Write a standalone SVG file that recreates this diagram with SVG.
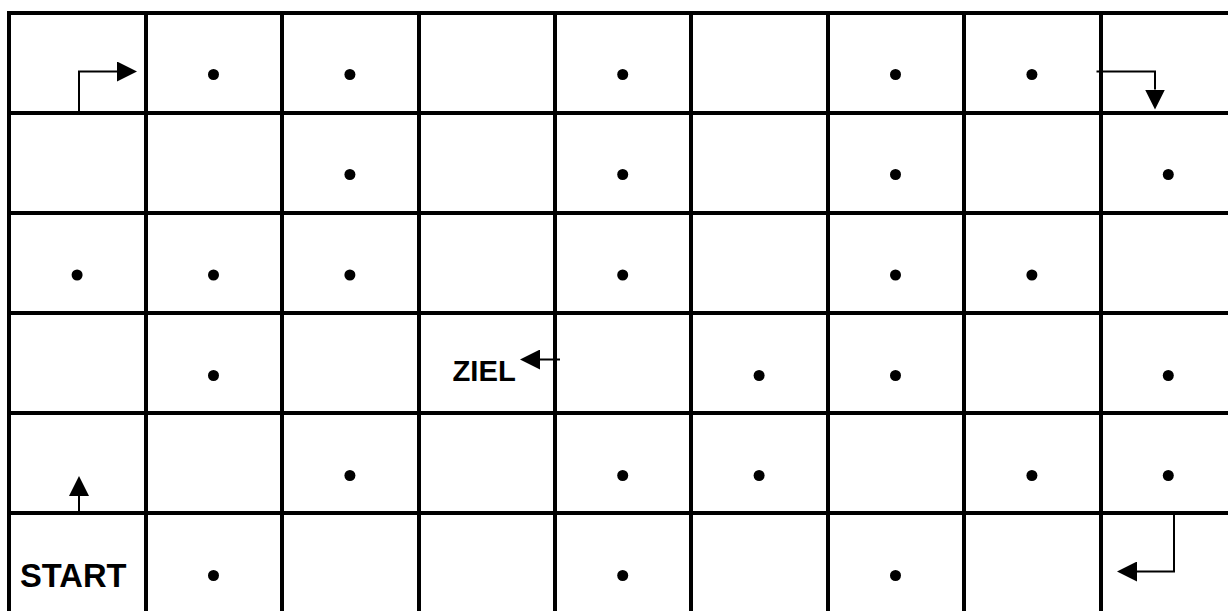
<svg xmlns="http://www.w3.org/2000/svg" width="1228" height="611" viewBox="0 0 1228 611">
<style>
.grid line{stroke:#000;stroke-width:4}
.dot{fill:#000}
.arr{fill:none;stroke:#000;stroke-width:2}
.lbl{font-family:"Liberation Sans",Arial,sans-serif;font-weight:bold;fill:#000}
</style>
<defs>
<marker id="ah" viewBox="0 0 20 20" refX="0" refY="10" markerWidth="20" markerHeight="20" markerUnits="userSpaceOnUse" orient="auto">
<path d="M0,0 L20,10 L0,20 Z" fill="#000"/>
</marker>
</defs>
<rect width="1228" height="611" fill="#fff"/>
<g id="grid" class="grid">
<line x1="7" y1="13" x2="1228" y2="13"/>
<line x1="7" y1="113" x2="1228" y2="113"/>
<line x1="7" y1="213" x2="1228" y2="213"/>
<line x1="7" y1="313" x2="1228" y2="313"/>
<line x1="7" y1="413" x2="1228" y2="413"/>
<line x1="7" y1="513" x2="1228" y2="513"/>
<line x1="9" y1="11" x2="9" y2="611"/>
<line x1="146" y1="11" x2="146" y2="611"/>
<line x1="282" y1="11" x2="282" y2="611"/>
<line x1="419" y1="11" x2="419" y2="611"/>
<line x1="555" y1="11" x2="555" y2="611"/>
<line x1="691" y1="11" x2="691" y2="611"/>
<line x1="828" y1="11" x2="828" y2="611"/>
<line x1="964" y1="11" x2="964" y2="611"/>
<line x1="1101" y1="11" x2="1101" y2="611"/>
</g>
<g id="dots" class="dot">
<circle cx="213.5" cy="74.5" r="5.5"/>
<circle cx="349.9" cy="74.5" r="5.5"/>
<circle cx="622.7" cy="74.5" r="5.5"/>
<circle cx="895.5" cy="74.5" r="5.5"/>
<circle cx="1031.9" cy="74.5" r="5.5"/>
<circle cx="349.9" cy="174.5" r="5.5"/>
<circle cx="622.7" cy="174.5" r="5.5"/>
<circle cx="895.5" cy="174.5" r="5.5"/>
<circle cx="1168.3" cy="174.5" r="5.5"/>
<circle cx="77.1" cy="275" r="5.5"/>
<circle cx="213.5" cy="275" r="5.5"/>
<circle cx="349.9" cy="275" r="5.5"/>
<circle cx="622.7" cy="275" r="5.5"/>
<circle cx="895.5" cy="275" r="5.5"/>
<circle cx="1031.9" cy="275" r="5.5"/>
<circle cx="213.5" cy="375.5" r="5.5"/>
<circle cx="759.1" cy="375.5" r="5.5"/>
<circle cx="895.5" cy="375.5" r="5.5"/>
<circle cx="1168.3" cy="375.5" r="5.5"/>
<circle cx="349.9" cy="475.5" r="5.5"/>
<circle cx="622.7" cy="475.5" r="5.5"/>
<circle cx="759.1" cy="475.5" r="5.5"/>
<circle cx="1031.9" cy="475.5" r="5.5"/>
<circle cx="1168.3" cy="475.5" r="5.5"/>
<circle cx="213.5" cy="575.5" r="5.5"/>
<circle cx="622.7" cy="575.5" r="5.5"/>
<circle cx="895.5" cy="575.5" r="5.5"/>
</g>
<g id="labels">
<text id="start" class="lbl" x="20" y="587" font-size="32.7">START</text>
<text id="ziel" class="lbl" x="452.5" y="381" font-size="29.2">ZIEL</text>
</g>
<g id="connectors" class="arr">
<path d="M79,113 V71.5 H117" marker-end="url(#ah)"/>
<path d="M1096.5,71.5 H1155 V89.5" marker-end="url(#ah)"/>
<path d="M560,359.5 H540" marker-end="url(#ah)"/>
<path d="M79,513 V496" marker-end="url(#ah)"/>
<path d="M1174,513 V571.5 H1137" marker-end="url(#ah)"/>
</g>
</svg>
